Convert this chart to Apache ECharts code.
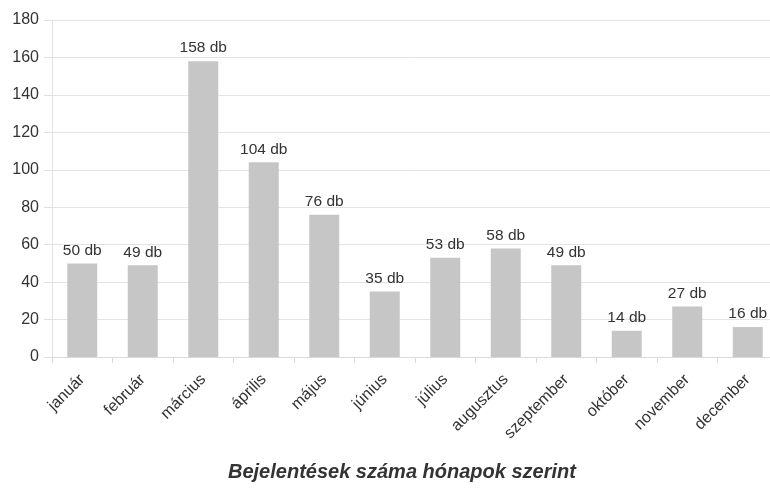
<!DOCTYPE html>
<html>
<head>
<meta charset="utf-8">
<script src="https://cdn.jsdelivr.net/npm/echarts@6/dist/echarts.min.js"></script>
<style>
html,body{margin:0;padding:0;background:#fff;}
#c{width:770px;height:495px;}
</style>
</head>
<body>
<div id="c"></div>
<script>
var categories = ['január','február','március','április','május','június','július','augusztus','szeptember','október','november','december'];
var values = [50, 49, 158, 104, 76, 35, 53, 58, 49, 14, 27, 16];
var yTicks = [0, 20, 40, 60, 80, 100, 120, 140, 160, 180];
var titleText = 'Bejelentések száma hónapok szerint';

var chart = echarts.init(document.getElementById('c'));
chart.setOption({
  animation: false,
  backgroundColor: '#fff',
  title: {
    text: titleText,
    left: 223,
    top: 457,
    textStyle: { fontFamily: 'Liberation Sans, Arial', fontStyle: 'italic', fontWeight: 'bold', fontSize: 20, color: '#333' }
  },
  grid: { left: 52, width: 726, top: 20, height: 337, containLabel: false, outerBoundsMode: 'none' },
  xAxis: {
    type: 'category',
    data: categories,
    axisLine: { show: true, lineStyle: { color: '#d9d9d9' } },
    axisTick: { show: true, alignWithLabel: false, length: 6, lineStyle: { color: '#d9d9d9' } },
    axisLabel: { rotate: 45, interval: 0, margin: 20, color: '#333', fontSize: 16, fontFamily: 'Liberation Sans, Arial' }
  },
  yAxis: {
    type: 'value',
    min: yTicks[0],
    max: yTicks[yTicks.length - 1],
    interval: yTicks[1] - yTicks[0],
    axisLine: { show: true, lineStyle: { color: '#e3e3e3' } },
    axisTick: { show: true, length: 8, lineStyle: { color: '#e0e0e0' } },
    splitLine: { show: true, lineStyle: { color: '#e3e3e3' } },
    axisLabel: { margin: 13, color: '#333', fontSize: 16, fontFamily: 'Liberation Sans, Arial' }
  },
  series: [{
    type: 'bar',
    data: values,
    barWidth: 30,
    itemStyle: { color: '#c6c6c6' },
    label: {
      show: true,
      position: 'top',
      distance: 5,
      formatter: function (p) { return p.value + ' db'; },
      color: '#333',
      fontSize: 15.5,
      fontFamily: 'Liberation Sans, Arial'
    }
  }]
});
</script>
</body>
</html>
